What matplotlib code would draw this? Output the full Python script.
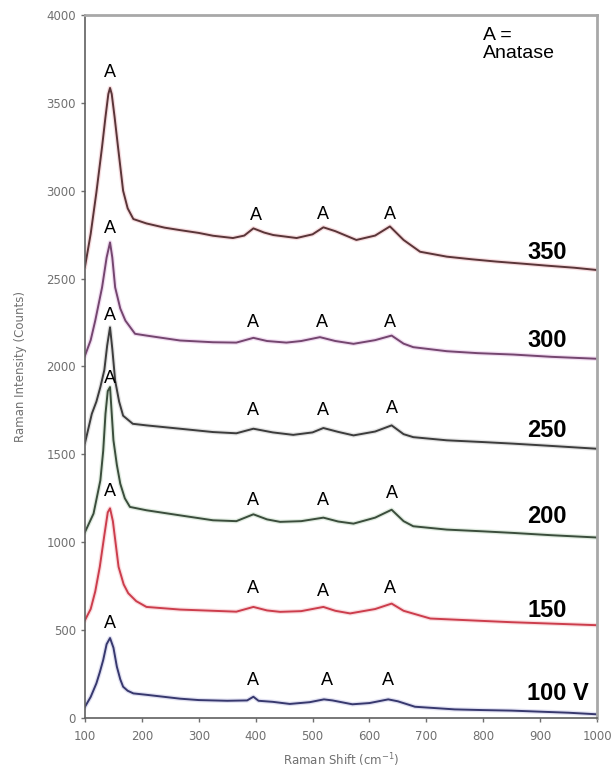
import matplotlib
matplotlib.use("Agg")
import matplotlib.pyplot as plt

# ---- data ----
x350 = [100,110,120,130,136,141,144,147,152,158,167,175,185,208,240,267,300,325,360,380,396,415,431,472,500,519,540,577,610,636,660,689,736,780,823,870,911,960,1000]
y350 = [2568,2755,2990,3250,3420,3550,3585,3550,3420,3250,3000,2900,2839,2814,2790,2776,2760,2744,2731,2745,2786,2762,2748,2731,2752,2792,2770,2720,2745,2797,2720,2653,2625,2610,2597,2585,2574,2562,2549]

x300 = [100,110,118,130,138,144,148,153,162,171,188,208,229,267,325,366,396,420,454,480,513,540,572,610,639,660,677,736,790,853,920,1000]
y300 = [2062,2150,2261,2450,2620,2706,2620,2450,2330,2261,2186,2176,2166,2148,2138,2136,2163,2145,2136,2145,2167,2145,2129,2150,2176,2130,2110,2087,2076,2068,2055,2044]

x250 = [100,112,120,127,134,139,144,148,153,160,167,184,208,267,325,366,396,430,466,500,519,545,572,610,639,660,677,736,800,853,920,1000]
y250 = [1565,1731,1800,1883,1980,2120,2223,2100,1920,1800,1720,1674,1665,1646,1627,1620,1646,1625,1611,1625,1650,1628,1608,1630,1665,1615,1598,1580,1570,1561,1548,1532]

x200 = [100,115,127,132,136,140,144,150,156,162,170,179,208,267,325,366,396,420,443,480,519,545,572,610,639,660,677,736,800,853,920,1000]
y200 = [1058,1163,1352,1520,1731,1860,1883,1580,1440,1333,1250,1201,1182,1153,1125,1120,1159,1130,1116,1120,1140,1118,1106,1140,1185,1120,1091,1072,1062,1053,1040,1027]

x150 = [100,110,118,126,134,140,144,149,159,168,176,190,208,267,325,366,396,420,443,480,519,540,566,610,639,660,707,795,850,912,1000]
y150 = [557,620,720,860,1040,1170,1193,1120,860,760,710,665,632,617,610,605,632,612,604,608,632,610,595,620,651,610,566,553,545,538,528]

x100 = [100,110,120,126,132,138,144,150,156,162,167,175,185,208,267,300,350,385,396,405,430,460,495,520,535,570,600,633,650,680,750,800,850,900,950,1000]
y100 = [64,120,197,260,330,420,455,400,292,220,178,155,140,132,110,102,98,100,121,98,92,80,90,106,100,78,85,106,95,64,49,45,42,36,30,21]

series_labels = ["350", "300", "250", "200", "150", "100 V"]
label_y = [2650, 2148, 1636, 1144, 614, 140]
label_x = 877

# "A" annotations: (x, y) per series
peakA_x = [[144, 400, 519, 636], [144, 396, 517, 636], [144, 396, 519, 639],
           [144, 396, 519, 639], [144, 396, 519, 636], [144, 396, 525, 633]]
peakA_y = [[3670, 2858, 2867, 2867], [2784, 2252, 2252, 2252], [2290, 1750, 1750, 1760],
           [1930, 1239, 1239, 1277], [1286, 737, 718, 737], [538, 216, 216, 216]]

xticks = [100, 200, 300, 400, 500, 600, 700, 800, 900, 1000]
yticks = [0, 500, 1000, 1500, 2000, 2500, 3000, 3500, 4000]

colors = ["#5a3538", "#74466f", "#3c3c3c", "#3b4d3c", "#cc3d4c", "#37386e"]
halo = ["#e8a0a8", "#d8a0d8", "#b0b0b0", "#a8c8a8", "#f0a0a8", "#a8a8d8"]

fig = plt.figure(figsize=(6.14, 7.75), dpi=100)
ax = fig.add_axes([85/614, 1-718/775, (597-85)/614, (718-15)/775])

xs = [x350, x300, x250, x200, x150, x100]
ys = [y350, y300, y250, y200, y150, y100]
for xx, yy, c, h in zip(xs, ys, colors, halo):
    ax.plot(xx, yy, color=h, lw=3.2, alpha=0.35, solid_joinstyle="round")
    ax.plot(xx, yy, color=c, lw=1.4, solid_joinstyle="round")

for px, py in zip(peakA_x, peakA_y):
    for a, b in zip(px, py):
        ax.text(a, b, "A", ha="center", va="center", fontsize=13,
                family="Liberation Sans", color="black")

for lab, ly in zip(series_labels, label_y):
    ax.text(label_x, ly, lab, ha="left", va="center", fontsize=17,
            fontweight="bold", family="Liberation Sans", color="black")

ax.text(800, 3930, "A =\nAnatase", ha="left", va="top", fontsize=14,
        family="Liberation Sans", color="black", linespacing=1.05)

ax.set_xlim(100, 1000)
ax.set_ylim(0, 4000)
ax.set_xticks(xticks)
ax.set_yticks(yticks)
ax.tick_params(axis="both", direction="out", length=3, width=1,
               labelsize=8.5, labelcolor="#707070", color="#707070")
ax.tick_params(axis="x", pad=6)
for lab in ax.get_xticklabels() + ax.get_yticklabels():
    lab.set_family("DejaVu Sans")

for s in ["left", "bottom"]:
    ax.spines[s].set_color("#606060")
    ax.spines[s].set_linewidth(1.2)
for s in ["top", "right"]:
    ax.spines[s].set_color("#a8a8a8")
    ax.spines[s].set_linewidth(2.0)

ax.set_xlabel("Raman Shift (cm$^{-1}$)", fontsize=8.5, color="#707070", labelpad=6)
ax.set_ylabel("Raman Intensity (Counts)", fontsize=8.5, color="#707070", labelpad=14)

fig.savefig("out.png", dpi=100)
